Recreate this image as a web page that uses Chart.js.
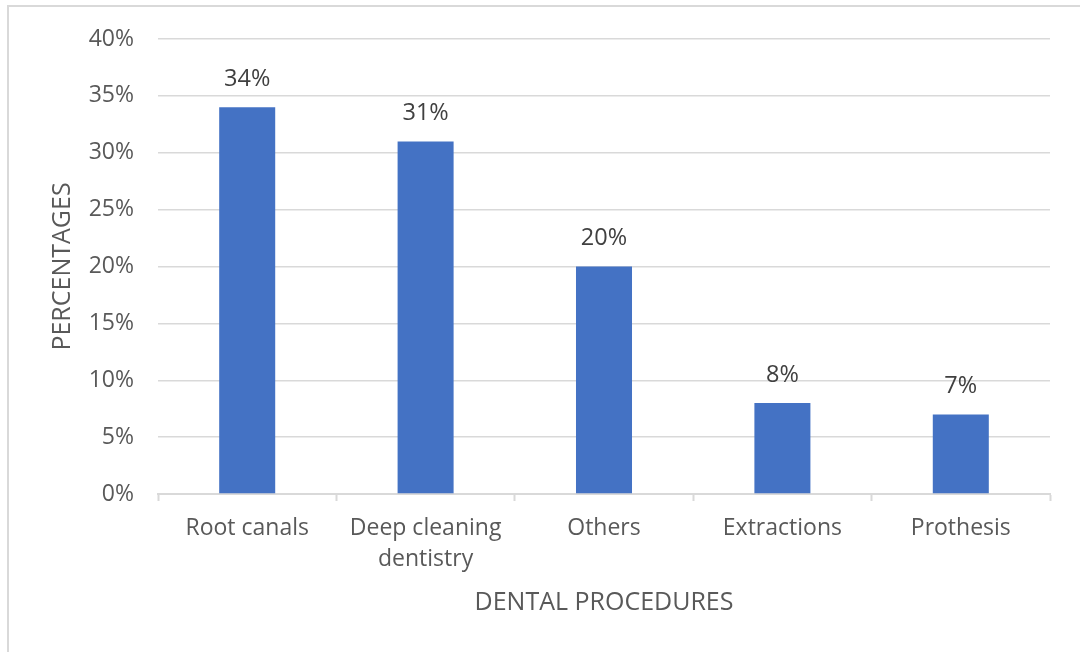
<!DOCTYPE html>
<html>
<head>
<meta charset="utf-8">
<script src="https://cdn.jsdelivr.net/npm/chart.js@4/dist/chart.umd.min.js"></script>
<style>
  html, body { margin: 0; padding: 0; background: #fff; }
  #frame { position: absolute; left: 7px; top: 5px; width: 1200px; height: 800px; border: 2px solid #d9d9d9; }
  #wrap { position: absolute; left: 0; top: 0; width: 1080px; height: 652px; }
</style>
</head>
<body>
<div id="frame"></div>
<div id="wrap"><canvas id="chart" width="1080" height="652"></canvas></div>
<script>
const categories = ["Root canals", ["Deep cleaning", "dentistry"], "Others", "Extractions", "Prothesis"];
const percentages = [34, 31, 20, 8, 7];
const tickValues = [0, 5, 10, 15, 20, 25, 30, 35, 40];

const fontFamily = "'Open Sans', 'Noto Sans', sans-serif";
const textColor = "#595959";
const gridColor = "#d9d9d9";

// labels above each bar
const barLabels = {
    id: "barLabels",
    afterDatasetsDraw(chart) {
        let ctx = chart.ctx;
        let meta = chart.getDatasetMeta(0);
        ctx.save();
        ctx.font = "23.5px " + fontFamily;
        ctx.fillStyle = "#404040";
        ctx.textAlign = "center";
        ctx.textBaseline = "middle";
        meta.data.forEach((bar, i) => {
            ctx.fillText(percentages[i] + "%", bar.x, bar.y - 28);
        });
        ctx.restore();
    }
};

const chart = document.getElementById("chart");
const myChart = new Chart(chart.getContext("2d"), {
    type: "bar",
    data: {
        labels: categories,
        datasets: [{
            data: percentages,
            backgroundColor: "#4472c4",
            barPercentage: 0.314,
            categoryPercentage: 1
        }]
    },
    options: {
        responsive: false,
        animation: false,
        devicePixelRatio: 1,
        layout: { padding: { top: 39, right: 30, left: 0, bottom: 0 } },
        plugins: {
            legend: { display: false },
            tooltip: { enabled: false }
        },
        scales: {
            x: {
                grid: {
                    drawOnChartArea: false,
                    drawTicks: true,
                    tickLength: 7,
                    tickColor: gridColor,
                    tickWidth: 2
                },
                border: { color: gridColor, width: 2 },
                ticks: {
                    color: textColor,
                    font: { family: fontFamily, size: 23, lineHeight: "31px" },
                    padding: 12,
                    maxRotation: 0,
                    autoSkip: false
                },
                title: {
                    display: true,
                    text: "DENTAL PROCEDURES",
                    color: textColor,
                    font: { family: fontFamily, size: 25 },
                    padding: { top: 0, bottom: 34 }
                },
                afterFit(scale) { scale.height = 158; }
            },
            y: {
                min: 0,
                max: 40,
                afterBuildTicks(scale) { scale.ticks = tickValues.map(v => ({ value: v })); },
                grid: { color: gridColor, lineWidth: 1.5, drawTicks: false },
                border: { display: false },
                ticks: {
                    color: textColor,
                    font: { family: fontFamily, size: 23 },
                    padding: 24,
                    callback: v => v + "%"
                },
                title: {
                    display: true,
                    text: "PERCENTAGES",
                    color: textColor,
                    font: { family: fontFamily, size: 25 },
                    padding: { top: 48, bottom: 0 }
                },
                afterFit(scale) { scale.width = 158; }
            }
        }
    },
    plugins: [barLabels]
});
</script>
</body>
</html>
